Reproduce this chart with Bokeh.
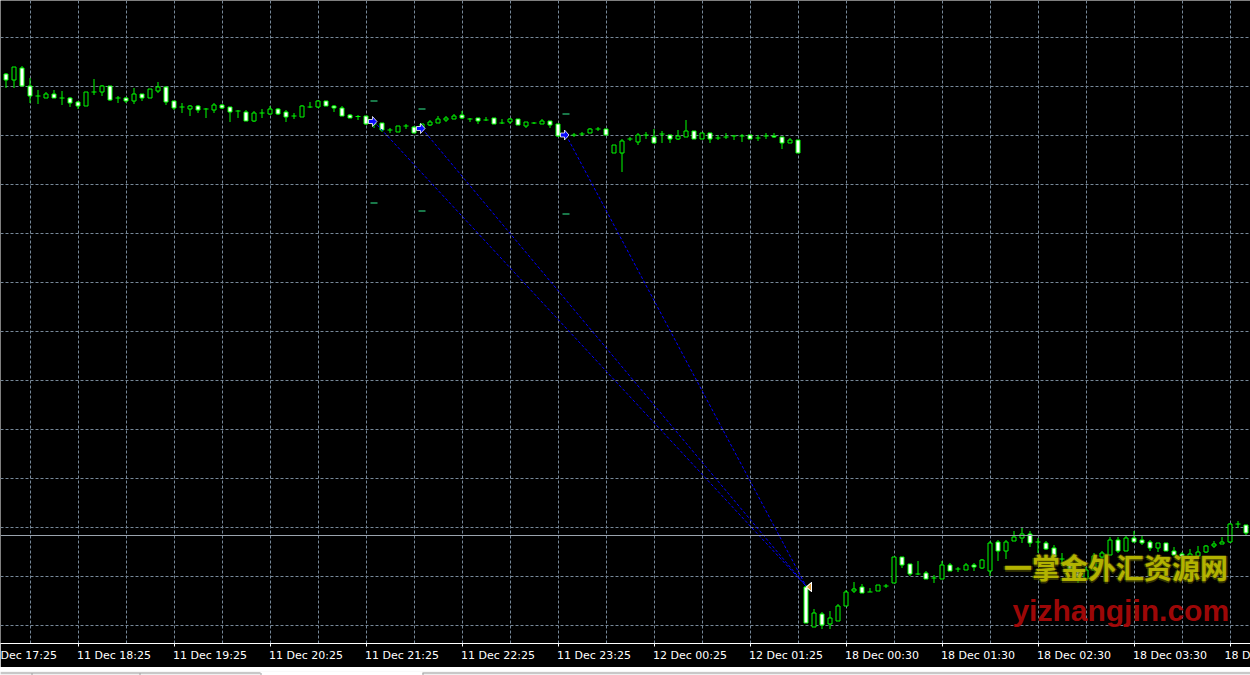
from bokeh.plotting import figure
from bokeh.layouts import column
from bokeh.models import Range1d, FixedTicker, ColumnDataSource, Grid, Span
from bokeh.core.properties import value
from bokeh.embed import file_html
from bokeh.resources import INLINE

# ---------------- data (price in points) ----------------
bar_open = [927, 921, 933, 915, 905, 903, 907, 903, 903, 899,
            895, 909, 909, 915, 903, 903, 900, 907, 903, 910,
            914, 900, 894, 892, 895, 892, 891, 896, 894, 890,
            889, 880, 888, 887, 892, 889, 885, 884, 894, 894,
            900, 895, 893, 886, 884.5, 885, 877, 878, 871, 869,
            875, 874, 872, 876, 878, 881, 882, 886, 882, 883,
            881, 883, 878, 879, 882, 875, 878, 877, 880, 877,
            866, 866, 867, 868, 872, 872, 848, 848, 862, 859,
            866, 864, 867, 866, 862, 864, 870, 862, 868, 863,
            864, 865, 865, 866, 863, 865, 865, 864, 858, 861,
            414, 374, 387, 377, 380, 395, 410, 414, 409, 410,
            415, 418, 444, 437, 427, 428, 423, 422, 436, 432,
            431, 436, 433, 430, 459, 450, 460, 463, 467, 459,
            458, 453, 442, 440, 430, 422, 431, 444, 446, 461,
            450, 463, 461, 459, 453, 458, 450, 447, 444, 445,
            449, 455, 457, 459, 477, 476]
bar_high = [928, 934, 935, 923, 911, 909, 911, 910, 904, 900,
            909, 922, 916, 915, 905, 904, 913, 907, 912, 919,
            914, 900, 898, 896, 896, 893, 898, 897, 894, 891,
            891, 890, 892, 895, 893, 891, 888, 896, 899, 901,
            900, 896, 895, 887, 886, 885, 880, 878, 873, 875,
            877, 875, 877, 881, 885, 885, 887, 890, 883, 883,
            884, 883, 882, 883, 882, 879, 879, 882, 880, 877,
            868, 868, 869, 873, 874, 872, 856, 862, 864, 868,
            869, 872, 870, 866, 871, 881, 870, 868, 868, 866,
            868, 866, 867, 866, 866, 868, 868, 864, 863, 861,
            416, 392, 389, 390, 397, 411, 419, 417, 413, 416,
            417, 444, 444, 437, 440, 430, 426, 440, 438, 434,
            438, 438, 442, 460, 461, 461, 470, 473, 470, 463,
            460, 456, 448, 442, 430, 434, 448, 450, 464, 464,
            465, 470, 466, 461, 458, 458, 454, 449, 452, 455,
            456, 460, 464, 478, 480, 476]
bar_low = [913, 913, 915, 898, 897, 903, 903, 896, 894, 892,
           895, 906, 905, 900, 898, 898, 897, 900, 903, 908,
           896, 891, 888, 885, 888, 883, 888, 892, 879, 883,
           880, 879, 883, 886, 886, 879, 882, 884, 893, 893,
           895, 889, 885, 883, 881, 876, 873, 869, 868, 869,
           872, 868, 870, 875, 878, 879, 882, 882, 879, 877,
           880, 877, 877, 877, 876, 873, 877, 877, 873, 864,
           863, 864, 865, 868, 870, 866, 848, 829, 860, 856,
           862, 858, 858, 858, 861, 864, 862, 862, 858, 861,
           862, 861, 859, 862, 860, 862, 863, 852, 858, 848,
           378, 374, 372, 372, 380, 395, 408, 408, 409, 410,
           413, 418, 433, 425, 426, 422, 418, 422, 430, 429,
           431, 430, 432, 425, 440, 442, 460, 458, 454, 448,
           451, 444, 435, 431, 418, 421, 431, 442, 446, 448,
           450, 459, 456, 450, 449, 450, 446, 441, 444, 444,
           448, 453, 457, 458, 473, 466]
bar_close = [921, 934, 915, 905, 905, 907, 903, 903, 898, 895,
             909, 909, 915, 901, 903, 900, 907, 903, 912, 914,
             899, 893, 894, 895, 891, 892, 896, 893, 889, 890,
             880, 888, 888, 892, 887, 884, 885, 895, 894, 900,
             895, 893, 885, 883, 884.5, 877, 877, 871, 871, 875,
             875, 868, 877, 879, 882, 883, 885, 883, 882, 880,
             881, 877, 878, 882, 876, 879, 878, 880, 876, 865,
             866, 866, 867, 872, 872, 866, 856, 860, 862, 866,
             866, 858, 867, 862, 865, 870, 862, 868, 862, 863,
             864, 865, 865, 862, 863, 865, 864, 858, 861, 848,
             378, 388, 376, 383, 395, 409, 412, 408, 409, 416,
             415, 444, 436, 427, 427, 422, 423, 436, 430, 432,
             436, 434, 441, 458, 450, 459, 464, 467, 458, 459,
             452, 444, 442, 432, 423, 431, 445, 448, 461, 450,
             463, 459, 458, 453, 458, 450, 446, 443, 447, 449,
             455, 457, 459, 477, 477, 468]

# time-axis labels as visible on the chart (first and last are cut by the window edge)
tick_bars = [-3, 9, 21, 33, 45, 57, 69, 81, 93, 105, 117, 129, 141, 153]
tick_labels = ["Dec 17:25", "11 Dec 18:25", "11 Dec 19:25", "11 Dec 20:25",
               "11 Dec 21:25", "11 Dec 22:25", "11 Dec 23:25", "12 Dec 00:25",
               "12 Dec 01:25", "18 Dec 00:30", "18 Dec 01:30", "18 Dec 02:30",
               "18 Dec 03:30", "18 D"]
grid_bars = list(range(3, 156, 6))
grid_prices = list(range(376, 1000, 49))

trade_open_bar = [46, 52, 70]
trade_open_price = [879.5, 872.5, 866]
trade_sl = [900, 892, 887]
trade_tp = [798, 790, 787]
trade_close_bar = [100, 100, 100]
trade_close_price = [415, 415, 415]
bid_price = 465.5

# ---------------- figure ----------------
PXX = 8.0  # pixels per bar
W, H, AXIS_H, STRIP_H = 1250, 667, 24, 8
x0 = -5.5 / PXX
y_top = 1000.5
p = figure(width=W, height=H, output_backend="svg", toolbar_location=None,
           x_range=Range1d(x0, x0 + W / PXX),
           y_range=Range1d(y_top - (H - AXIS_H), y_top),
           y_axis_location=None, min_border_left=0, min_border_right=0,
           min_border_top=0, min_border_bottom=AXIS_H)
p.background_fill_color = "black"
p.border_fill_color = "black"
p.outline_line_color = None
p.grid.visible = False

grid_col = "#778899"
p.add_layout(Grid(dimension=0, ticker=FixedTicker(ticks=grid_bars),
                  grid_line_color=grid_col, grid_line_dash="3 2", grid_line_width=1))
p.add_layout(Grid(dimension=1, ticker=FixedTicker(ticks=grid_prices),
                  grid_line_color=grid_col, grid_line_dash="3 2", grid_line_width=1))

# x axis: labels start at their tick (left aligned) -> centre = tick + half width
CW = {"D": 8.5, "e": 6.8, "c": 6.0, " ": 3.5, ":": 3.7}
def text_w(s):
    return sum(CW.get(ch, 7.0) for ch in s)

label_pos = [b + (text_w(t) / 2 - 1) / PXX for b, t in zip(tick_bars, tick_labels)]
ax = p.xaxis[0]
ax.ticker = FixedTicker(ticks=label_pos, minor_ticks=list(tick_bars))
ax.major_label_overrides = {pos: lab for pos, lab in zip(label_pos, tick_labels)}
ax.axis_line_color = "white"
ax.major_tick_line_color = None
ax.major_tick_out = 0
ax.major_tick_in = 0
ax.minor_tick_line_color = "white"
ax.minor_tick_out = 3
ax.minor_tick_in = 0
ax.major_label_standoff = 2
ax.major_label_text_color = "white"
ax.major_label_text_font = "DejaVu Sans"
ax.major_label_text_font_size = "11px"

# bid line
p.add_layout(Span(location=bid_price, dimension="width", line_color="#9aa3ad", line_width=1))

# ---------------- candles ----------------
n = len(bar_open)
lime = "#00ff00"
p.segment(x0=list(range(n)), y0=bar_low, x1=list(range(n)), y1=bar_high,
          line_color=lime, line_width=1)
body_idx = [i for i in range(n) if abs(bar_open[i] - bar_close[i]) >= 0.75]
doji_idx = [i for i in range(n) if abs(bar_open[i] - bar_close[i]) < 0.75]
bsrc = ColumnDataSource(dict(
    x=body_idx,
    top=[max(bar_open[i], bar_close[i]) for i in body_idx],
    bottom=[min(bar_open[i], bar_close[i]) for i in body_idx],
    fill=["black" if bar_close[i] > bar_open[i] else "white" for i in body_idx],
))
p.vbar(x="x", width=0.5, top="top", bottom="bottom", source=bsrc,
       fill_color="fill", line_color=lime, line_width=1)
half = 2.5 / PXX
p.segment(x0=[i - half for i in doji_idx], x1=[i + half for i in doji_idx],
          y0=[bar_close[i] for i in doji_idx], y1=[bar_close[i] for i in doji_idx],
          line_color=lime, line_width=1)

# ---------------- trades ----------------
p.segment(x0=trade_open_bar, y0=trade_open_price, x1=trade_close_bar, y1=trade_close_price,
          line_color="#0000ff", line_width=1, line_dash="3 2")

dash_half = 3.5 / PXX
level_x = trade_open_bar + trade_open_bar
level_y = trade_sl + trade_tp
p.segment(x0=[b - dash_half for b in level_x], x1=[b + dash_half for b in level_x],
          y0=level_y, y1=level_y, line_color="#22a062", line_width=1.5)

arrow_shape = [(-4, -2), (0, -2), (0, -5), (4.5, 0), (0, 5), (0, 2), (-4, 2)]
ARROW_OFF = -1.5 / PXX
p.patches(xs=[[b + ARROW_OFF + dx / PXX for dx, dy in arrow_shape] for b in trade_open_bar],
          ys=[[pr + dy for dx, dy in arrow_shape] for pr in trade_open_price],
          fill_color="#0a0aff", line_color="white", line_width=0.8)

close_shape = [(0.5, 0), (5.5, 4.5), (5.5, -4.5)]
p.patches(xs=[[b + dx / PXX for dx, dy in close_shape] for b in trade_close_bar],
          ys=[[pr - 1 + dy for dx, dy in close_shape] for pr in trade_close_price],
          fill_color="#e0a040", line_color="white", line_width=1)

# ---------------- watermark ----------------
wm_cn = "一掌金外汇资源网"
wm_en = "yizhangjin.com"
for dx, dy in [(-0.2, 0), (0.2, 0), (0, 1.5), (0, -1.5)]:
    p.text(x=[124.75 + dx], y=[434 + dy], text=[wm_cn], text_font=value("Noto Sans CJK SC"),
           text_font_size="28px", text_font_style="bold", text_color="#606000",
           text_alpha=0.55, text_baseline="middle", text_align="left")
p.text(x=[124.75], y=[434], text=[wm_cn], text_font=value("Noto Sans CJK SC"),
       text_font_size="28px", text_font_style="bold", text_color="#c4c400",
       text_alpha=0.85, text_baseline="middle", text_align="left")
p.text(x=[125.8], y=[390.5], text=[wm_en], text_font=value("Liberation Sans"),
       text_font_size="30px", text_font_style="bold", text_color="#a80808",
       text_alpha=0.95, text_baseline="alphabetic", text_align="left")

# ---------------- window tab strip below the chart ----------------
strip = figure(width=W, height=STRIP_H, output_backend="svg", toolbar_location=None,
               x_range=Range1d(0, W), y_range=Range1d(0, STRIP_H),
               x_axis_location=None, y_axis_location=None,
               min_border_left=0, min_border_right=0, min_border_top=0, min_border_bottom=0)
strip.background_fill_color = "#f0f0f0"
strip.border_fill_color = "#f0f0f0"
strip.outline_line_color = None
strip.grid.visible = False
strip.quad(left=[260], right=[422], bottom=[0], top=[STRIP_H], fill_color="white", line_color=None)
strip.segment(x0=[0, 422], x1=[260, W], y0=[STRIP_H - 1.5] * 2, y1=[STRIP_H - 1.5] * 2,
              line_color="#a0a0a0", line_width=1)
strip.segment(x0=[31.5, 139.5, 260.5, 422.5], x1=[31.5, 139.5, 260.5, 422.5],
              y0=[0] * 4, y1=[STRIP_H - 1.5] * 4, line_color="#a0a0a0", line_width=1)

layout = column(p, strip, spacing=0)
open("out.html", "w").write(file_html(layout, INLINE))
